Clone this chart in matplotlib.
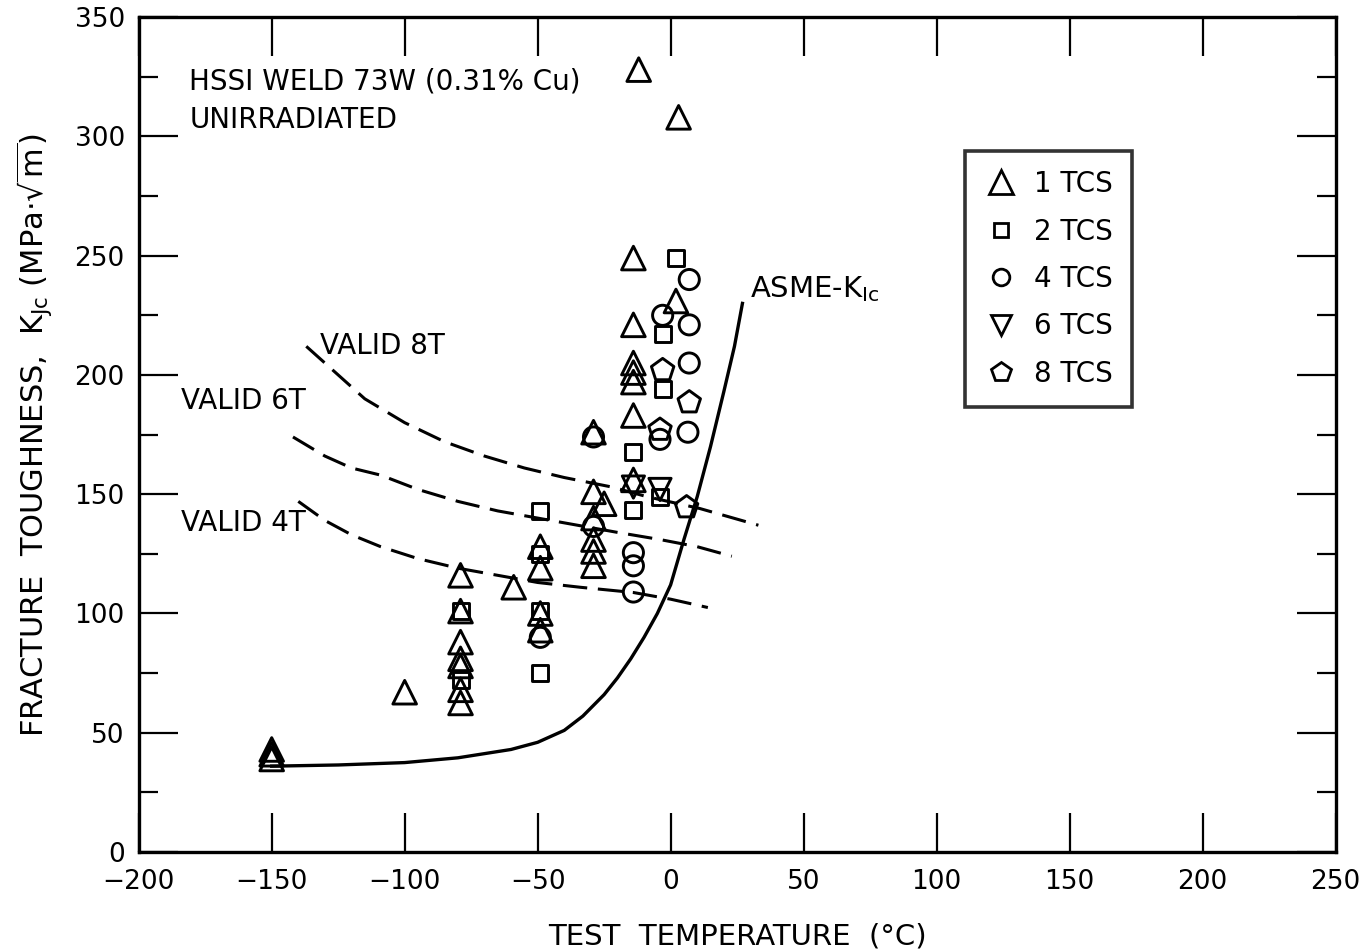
import matplotlib
matplotlib.use("Agg")
import matplotlib.pyplot as plt
from matplotlib import font_manager
from matplotlib.ticker import MultipleLocator
from matplotlib.lines import Line2D

# ---------------- data ----------------
t1_x = [-150, -150, -150, -100, -79, -79, -79, -79, -79, -79, -79, -59,
        -49, -49, -49, -49, -29, -29, -29, -29, -29, -29, -25,
        -14, -14, -14, -14, -14, -14, -14, -12, 3, 2]
t1_y = [39, 41, 43, 67, 116, 101, 88, 81, 78, 68, 62.5, 111,
        128, 119, 100, 93, 176, 151, 140, 131, 126, 120, 146,
        249, 221, 205, 201, 197, 183, 156, 328, 308, 231]

t2_x = [-79, -79, -49, -49, -49, -49, -14, -14, 2, -3, -3, -4]
t2_y = [101, 72, 143, 125, 101, 75, 167.5, 143.5, 249, 217, 194, 149]

t4_x = [-49, -29, -29, -14, -14, -14, -3, -4, 7, 7, 7, 6.5]
t4_y = [90, 174, 136.5, 125.5, 120, 109, 225, 173, 240, 221, 205, 176]

t6_x = [-14, -4]
t6_y = [153, 152]

t8_x = [-3, -4, 7, 6]
t8_y = [202, 177, 188.5, 144.5]

asme_t = [-150, -125, -100, -80, -60, -50, -40, -33, -25, -20, -15, -10, -5, 0, 5, 10, 15, 20, 24, 27]
asme_k = [36, 36.5, 37.5, 39.5, 43, 46, 51, 57, 66, 73, 81, 90, 100, 112, 131, 149, 170, 193, 212, 230]

v8_t = [-137, -125, -115, -100, -85, -70, -55, -40, -22, -9, 11, 33]
v8_k = [212, 200, 190, 180, 172, 166, 161, 157, 153, 149, 144, 137]

v6_t = [-142, -130, -120, -109, -95, -80, -65, -50, -35, -20, -4, 10, 23]
v6_k = [174, 166, 161, 158, 152, 147, 143, 140, 137, 134, 131, 128, 124]

v4_t = [-140, -130, -120, -109, -95, -80, -65, -50, -34, -14, 0, 14]
v4_k = [147, 139, 133, 128, 123, 119, 116, 113, 111, 108.8, 106, 102.5]

legend_labels = ["1 TCS", "2 TCS", "4 TCS", "6 TCS", "8 TCS"]
x_ticks = [-200, -150, -100, -50, 0, 50, 100, 150, 200, 250]
y_ticks = [0, 50, 100, 150, 200, 250, 300, 350]

# ---------------- fonts ----------------
names = {f.name for f in font_manager.fontManager.ttflist}
narrow = "Liberation Sans Narrow" if "Liberation Sans Narrow" in names else "DejaVu Sans"
plt.rcParams["font.family"] = ["DejaVu Sans"]
plt.rcParams["mathtext.fontset"] = "dejavusans"

fig = plt.figure(figsize=(13.6, 9.52), dpi=100)
ax = fig.add_axes([0.102, 0.105, 0.880, 0.877])

lw = 2.2
dash = (8, 3.5)
ax.plot(asme_t, asme_k, color="black", lw=2.4, zorder=2)
for tt, kk in [(v8_t, v8_k), (v6_t, v6_k), (v4_t, v4_k)]:
    ax.plot(tt, kk, color="black", lw=lw, dashes=dash, zorder=2)

mk = dict(facecolors="none", edgecolors="black", linewidths=2.1, zorder=3)
ax.scatter(t1_x, t1_y, marker="^", s=17**2, **mk)
ax.scatter(t2_x, t2_y, marker="s", s=11.5**2, **mk)
ax.scatter(t4_x, t4_y, marker="o", s=14.5**2, **mk)
ax.scatter(t6_x, t6_y, marker="v", s=16**2, **mk)
ax.scatter(t8_x, t8_y, marker="p", s=17**2, **mk)

ax.set_xlim(-200, 250)
ax.set_ylim(0, 350)
ax.set_xticks(x_ticks)
ax.set_yticks(y_ticks)
ax.yaxis.set_minor_locator(MultipleLocator(25))
ax.tick_params(axis="both", which="major", direction="in", length=28, width=1.6,
               top=True, right=True, labelsize=19, pad=10)
ax.tick_params(axis="y", which="minor", direction="in", length=14, width=1.6,
               left=True, right=True)
ax.tick_params(axis="x", which="major", pad=12)
ax.set_xticklabels([str(v).replace("-", "\u2212") for v in x_ticks])
for sp in ax.spines.values():
    sp.set_linewidth(2.4)

ax.set_xlabel("TEST  TEMPERATURE  (\u00b0C)", fontsize=21, family=narrow, labelpad=20)
ax.set_ylabel(r"FRACTURE  TOUGHNESS,  K$_{\mathrm{Jc}}$ (MPa$\cdot\sqrt{\mathrm{m}}$)",
              fontsize=22, family=narrow, labelpad=14)

tk = dict(fontsize=20, family=narrow, color="black")
ax.text(-181, 323, "HSSI WELD 73W (0.31% Cu)", va="center", ha="left", **tk)
ax.text(-181, 307, "UNIRRADIATED", va="center", ha="left", **tk)
ax.text(-132, 212, "VALID 8T", va="center", ha="left", **tk)
ax.text(-184, 189, "VALID 6T", va="center", ha="left", **tk)
ax.text(-184, 138, "VALID 4T", va="center", ha="left", **tk)
ax.text(30, 236, r"ASME-K$_{\mathrm{Ic}}$", va="center", ha="left", fontsize=21, family=narrow)

handles = [
    Line2D([], [], ls="none", marker="^", ms=17, mfc="none", mec="black", mew=2.0),
    Line2D([], [], ls="none", marker="s", ms=10, mfc="none", mec="black", mew=2.0),
    Line2D([], [], ls="none", marker="o", ms=12, mfc="none", mec="black", mew=2.0),
    Line2D([], [], ls="none", marker="v", ms=15, mfc="none", mec="black", mew=2.0),
    Line2D([], [], ls="none", marker="p", ms=15, mfc="none", mec="black", mew=2.0),
]
leg = ax.legend(handles, legend_labels, loc="upper left", bbox_to_anchor=(0.69, 0.84),
                fontsize=20, frameon=True, fancybox=False, edgecolor="black",
                handlelength=1.2, handletextpad=0.6, labelspacing=0.70,
                borderpad=0.7, borderaxespad=0.0)
leg.get_frame().set_linewidth(2.6)

fig.savefig("out.png", dpi=100)
